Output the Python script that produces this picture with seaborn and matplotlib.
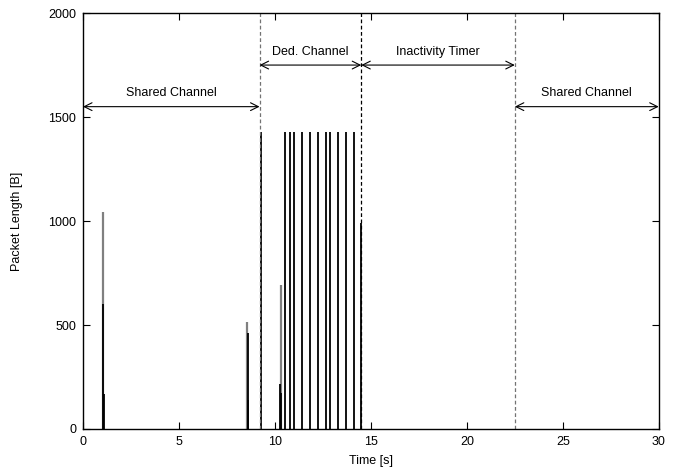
import numpy as np
import pandas as pd
import seaborn as sns
from matplotlib import pyplot as plt

# packet trace: black = main series, gray = second series
black_t = [1.04, 1.08, 8.58, 8.62, 9.25, 10.25, 10.3, 10.55, 10.78, 11.0, 11.4,
           11.81, 12.22, 12.64, 12.88, 13.27, 13.68, 14.1, 14.48]
black_h = [600, 170, 460, 140, 1430, 215, 175, 1430, 1430, 1430, 1430,
           1430, 1430, 1430, 1430, 1430, 1430, 1430, 990]
gray_t = [1.04, 8.56, 10.3]
gray_h = [1045, 515, 692]

# state boundaries
bounds = [9.2, 14.5, 22.5]
states = ["Shared Channel", "Ded. Channel", "Inactivity Timer", "Shared Channel"]
state_span = [(0, 9.2), (9.2, 14.5), (14.5, 22.5), (22.5, 30)]
state_y = [1550, 1750, 1750, 1550]

sns.set_style("ticks")
plt.rcParams["font.family"] = ["Liberation Sans", "DejaVu Sans"]
plt.rcParams.update({"text.color": "black", "axes.labelcolor": "black",
                     "xtick.color": "black", "ytick.color": "black",
                     "axes.edgecolor": "black"})

fig = plt.figure(figsize=(6.77, 4.67), dpi=100)
ax = fig.add_axes([0.1226, 0.0814, 0.8504, 0.8906])

df_b = pd.DataFrame({"t": black_t, "h": black_h})
df_g = pd.DataFrame({"t": gray_t, "h": gray_h})

ax.vlines(df_g["t"], 0, df_g["h"], color="0.5", lw=1.6)
ax.vlines(df_b["t"], 0, df_b["h"], color="black", lw=1.3)

ax.axvline(bounds[0], color="0.45", ls=(0, (3, 2)), lw=0.9)
ax.axvline(bounds[1], color="black", ls=(0, (3, 2)), lw=0.9)
ax.axvline(bounds[2], color="0.45", ls=(0, (3, 2)), lw=0.9)

for name, (x0, x1), y in zip(states, state_span, state_y):
    ax.annotate("", xy=(x0, y), xytext=(x1, y),
                arrowprops=dict(arrowstyle="<->", lw=0.8, color="black",
                                shrinkA=0, shrinkB=0, mutation_scale=14))
    ax.text((x0 + x1) / 2, y + 35, name, ha="center", va="bottom", fontsize=9)

ax.set_xlim(0, 30)
ax.set_ylim(0, 2000)
ax.set_xticks(np.arange(0, 31, 5))
ax.set_yticks(np.arange(0, 2001, 500))
ax.tick_params(direction="in", top=True, right=True, labelsize=9, length=5,
               width=0.8, pad=5)
ax.set_xlabel("Time [s]", fontsize=9, labelpad=5)
ax.set_ylabel("Packet Length [B]", fontsize=9, labelpad=18)
for s in ax.spines.values():
    s.set_linewidth(1.0)

fig.savefig("out.png", dpi=100)
